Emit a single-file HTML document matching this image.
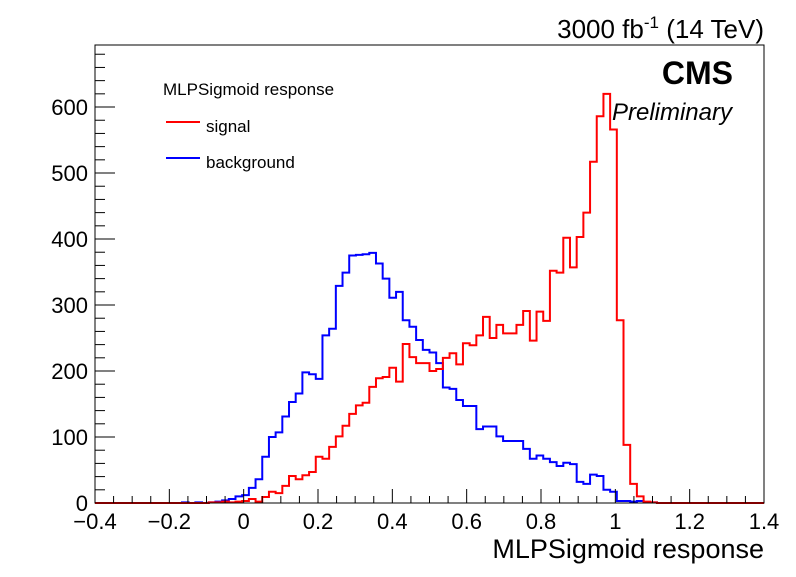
<!DOCTYPE html>
<html><head><meta charset="utf-8"><style>
body{margin:0;background:#fff;}
svg text{font-family:"Liberation Sans",sans-serif;}
</style></head><body>
<svg id="chart" width="796" height="572" viewBox="0 0 796 572">
<rect width="796" height="572" fill="#fff"/>
<g id="marks"></g>
<rect x="95" y="45" width="669" height="458" fill="none" stroke="#000" stroke-width="1"/>
<g id="axes" stroke="#000" stroke-width="1"></g>
<g id="labels" font-size="22" fill="#000"></g>
<text x="764" y="558" text-anchor="end" font-size="27">MLPSigmoid response</text>
<text x="764" y="38" text-anchor="end" font-size="26">3000 fb<tspan dy="-10" font-size="17">-1</tspan><tspan dy="10"> (14 TeV)</tspan></text>
<text x="733" y="84" text-anchor="end" font-size="32" font-weight="bold">CMS</text>
<text x="732" y="120" text-anchor="end" font-size="24" font-style="italic">Preliminary</text>
<g>
<text x="163" y="95" font-size="17">MLPSigmoid response</text>
<line x1="166" y1="122" x2="200" y2="122" stroke="#ff0000" stroke-width="2"/>
<text x="206" y="132" font-size="17">signal</text>
<line x1="166" y1="158" x2="200" y2="158" stroke="#0000ff" stroke-width="2"/>
<text x="206" y="168" font-size="17">background</text>
</g>
</svg>
<script>
const binLow = -0.4;
const binWidth = 0.018;
const xTicks = [-0.4,-0.2,0,0.2,0.4,0.6,0.8,1,1.2,1.4];
const xTickLabels = ["\u22120.4","\u22120.2","0","0.2","0.4","0.6","0.8","1","1.2","1.4"];
const yTicks = [0,100,200,300,400,500,600];
const yTickLabels = ["0","100","200","300","400","500","600"];
const background = [0,0,0,0,0,0,0,0,0,0,0,0,0,1,0,1,0,1,2,4,6,10,12,23,36,70,100,107,131,153,166,198,195,188,254,264,329,349,375,376,377,379,363,340,311,320,277,267,247,232,228,212,175,173,156,147,147,112,116,116,101,94,94,94,82,67,72,67,62,56,61,59,32,29,43,41,20,17,3,3,2,3,1,1,0,0,0,0,0,0,0,0,0,0,0,0,0,0,0,0];
const signal = [0,0,0,0,0,0,0,0,0,0,0,0,0,0,0,0,0,1,1,2,1,2,3,6,2,9,17,15,26,41,36,42,47,70,67,85,101,117,135,148,152,176,189,191,205,184,241,221,212,212,200,203,220,227,210,242,239,254,282,250,270,257,257,270,291,246,290,276,352,349,402,357,403,440,517,586,620,566,277,88,29,10,2,1,0,0,0,0,0,0,0,0,0,0,0,0,0,0,0,0];

const X0=95,X1=764,Y0=503,Y1=45,xMin=-0.4,xMax=1.4,yMax=694;
function xs(v){return X0+(v-xMin)/(xMax-xMin)*(X1-X0);}
function ys(v){return Y0-v/yMax*(Y0-Y1);}
const NS="http://www.w3.org/2000/svg";
function mk(tag,attrs){const e=document.createElementNS(NS,tag);for(const k in attrs)e.setAttribute(k,attrs[k]);return e;}

function drawHist(vals,color,name){
  let d="";
  for(let i=0;i<vals.length;i++){
    const xa=xs(binLow+i*binWidth), xb=xs(binLow+(i+1)*binWidth), y=ys(vals[i]);
    d += (i===0?"M"+xa+","+y:"L"+xa+","+y)+" L"+xb+","+y+" ";
  }
  const p=mk("path",{d:d,fill:"none",stroke:color,"stroke-width":2});
  
  
  document.getElementById("marks").appendChild(p);
}
drawHist(background,"#0000ff","background-histogram");
drawHist(signal,"#ff0000","signal-histogram");

const ax=document.getElementById("axes"), lb=document.getElementById("labels");
for(let v=-0.4;v<=1.4001;v+=0.05){
  const major=Math.abs(Math.round(v*10)-v*10)<1e-6&&Math.round(v*10)%2===0;
  const x=xs(v);
  const t=mk("line",{x1:x,y1:Y0,x2:x,y2:Y0-(major?14:7)});
  
  
  ax.appendChild(t);
}
xTicks.forEach((v,i)=>{
  const t=mk("text",{x:xs(v),y:529,"text-anchor":"middle"});
  t.textContent=xTickLabels[i];
  
  
  lb.appendChild(t);
});
for(let v=0;v<=yMax;v+=20){
  const major=v%100===0;
  const y=ys(v);
  const t=mk("line",{x1:X0,y1:y,x2:X0+(major?20:10),y2:y});
  
  
  ax.appendChild(t);
}
yTicks.forEach((v,i)=>{
  const t=mk("text",{x:88,y:ys(v)+8,"text-anchor":"end"});
  t.textContent=yTickLabels[i];
  
  
  lb.appendChild(t);
});
</script>
</body></html>
